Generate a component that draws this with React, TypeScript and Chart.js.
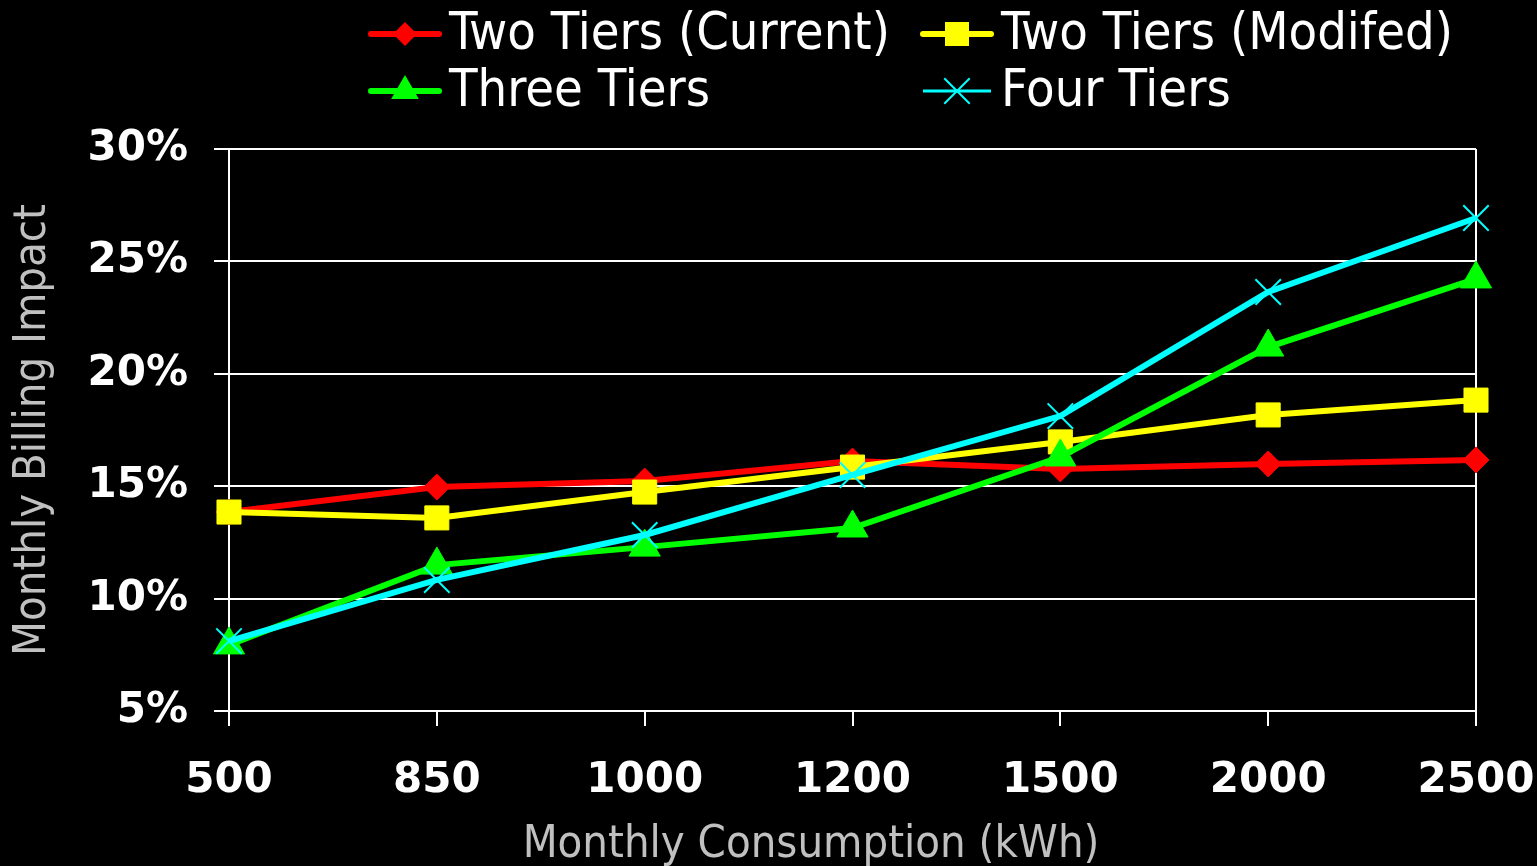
import React, { useEffect, useRef } from "react";
import { Chart, registerables } from "chart.js";

Chart.register(...registerables);

const categories = ["500", "850", "1000", "1200", "1500", "2000", "2500"];
const twoTiersCurrent = [13.85, 14.96, 15.23, 16.12, 15.77, 15.99, 16.17];
const twoTiersModified = [13.85, 13.59, 14.74, 15.85, 16.97, 18.17, 18.83];
const threeTiers = [7.94, 11.49, 12.29, 13.14, 16.3, 21.19, 24.22];
const fourTiers = [8.11, 10.83, 12.83, 15.5, 18.12, 23.64, 26.93];
const seriesNames = ["Two Tiers (Current)", "Two Tiers (Modifed)", "Three Tiers", "Four Tiers"];
const seriesColors = ["#ff0000", "#ffff00", "#00ff00", "#00ffff"];
const xTitle = "Monthly Consumption (kWh)";
const yTitle = "Monthly Billing Impact";
const yMin = 5;
const yMax = 30;
const yStep = 5;

const TEXT_FONT = "'DejaVu Sans Condensed', 'DejaVu Sans', sans-serif";
const TICK_FONT = "'DejaVu Sans', sans-serif";

function drawMarker(ctx: CanvasRenderingContext2D, style: string, x: number, y: number, r: number, color: string) {
  ctx.save();
  ctx.fillStyle = color;
  ctx.strokeStyle = color;
  ctx.beginPath();
  if (style === "rectRot") {
    ctx.moveTo(x - r, y);
    ctx.lineTo(x, y - r);
    ctx.lineTo(x + r, y);
    ctx.lineTo(x, y + r);
    ctx.closePath();
    ctx.fill();
  } else if (style === "rect") {
    const s = Math.SQRT1_2 * r;
    ctx.rect(x - s, y - s, 2 * s, 2 * s);
    ctx.fill();
  } else if (style === "triangle") {
    const a = (2 * Math.PI) / 3;
    ctx.moveTo(x, y - r);
    ctx.lineTo(x + Math.sin(a) * r, y - Math.cos(a) * r);
    ctx.lineTo(x + Math.sin(2 * a) * r, y - Math.cos(2 * a) * r);
    ctx.closePath();
    ctx.fill();
  } else if (style === "crossRot") {
    const o = Math.SQRT1_2 * r;
    ctx.lineWidth = 2;
    ctx.moveTo(x - o, y - o);
    ctx.lineTo(x + o, y + o);
    ctx.moveTo(x + o, y - o);
    ctx.lineTo(x - o, y + o);
    ctx.stroke();
  }
  ctx.restore();
}

const legendAndTitles = {
  id: "legendAndTitles",
  afterDraw(chart: any) {
    const ctx: CanvasRenderingContext2D = chart.ctx;
    const area = chart.chartArea;
    const items = [
      { ds: 0, x0: 371, x1: 439, mx: 405, tx: 449, y: 34, r: 12 },
      { ds: 1, x0: 923, x1: 991, mx: 957, tx: 1001, y: 34, r: 17 },
      { ds: 2, x0: 371, x1: 439, mx: 405, tx: 449, y: 91, r: 16 },
      { ds: 3, x0: 923, x1: 991, mx: 957, tx: 1001, y: 91, r: 18 },
    ];
    ctx.save();
    for (const it of items) {
      const ds = chart.data.datasets[it.ds];
      const isCross = ds.pointStyle === "crossRot";
      ctx.strokeStyle = ds.borderColor;
      ctx.lineWidth = isCross ? 3 : 6;
      ctx.lineCap = isCross ? "butt" : "round";
      ctx.beginPath();
      ctx.moveTo(it.x0, it.y);
      ctx.lineTo(it.x1, it.y);
      ctx.stroke();
      drawMarker(ctx, ds.pointStyle, it.mx, it.y, it.r, ds.borderColor);
      ctx.fillStyle = "#ffffff";
      ctx.font = `52px ${TEXT_FONT}`;
      ctx.textBaseline = "middle";
      ctx.textAlign = "left";
      ctx.fillText(ds.label, it.tx, it.y + 1);
    }
    // axis titles
    ctx.fillStyle = "#c0c0c0";
    ctx.font = `45px ${TEXT_FONT}`;
    ctx.textAlign = "center";
    ctx.textBaseline = "middle";
    ctx.fillText(xTitle, 811, 845);
    ctx.translate(33, (area.top + area.bottom) / 2);
    ctx.rotate(-Math.PI / 2);
    ctx.fillText(yTitle, 0, 0);
    ctx.restore();
  },
};

export default function App() {
  const canvasRef = useRef<HTMLCanvasElement | null>(null);

  useEffect(() => {
    document.body.style.margin = "0";
    document.body.style.background = "#000000";
    const canvas = canvasRef.current!;
    const series = [twoTiersCurrent, twoTiersModified, threeTiers, fourTiers];
    const styles = ["rectRot", "rect", "triangle", "crossRot"];
    const radii = [13, 17, 18, 18];
    const chart = new Chart(canvas, {
      type: "line",
      data: {
        labels: categories,
        datasets: series.map((data, i) => ({
          label: seriesNames[i],
          data,
          borderColor: seriesColors[i],
          backgroundColor: seriesColors[i],
          borderWidth: 6,
          pointStyle: styles[i] as any,
          pointRadius: radii[i],
          pointBorderWidth: styles[i] === "crossRot" ? 2 : 1,
          pointBackgroundColor: seriesColors[i],
          pointBorderColor: seriesColors[i],
          tension: 0,
          fill: false,
          order: series.length - i,
        })),
      },
      options: {
        responsive: false,
        animation: false,
        devicePixelRatio: 1,
        layout: { padding: { top: 149, right: 61, left: 0, bottom: 0 } },
        plugins: {
          legend: { display: false },
          tooltip: { enabled: false },
          title: { display: false },
        },
        scales: {
          x: {
            type: "category",
            offset: false,
            afterFit: (scale: any) => {
              scale.height = 155;
              scale.paddingLeft = 0;
              scale.paddingRight = 0;
            },
            grid: {
              drawOnChartArea: true,
              color: (c: any) => (c.index === categories.length - 1 ? "#ffffff" : "rgba(0,0,0,0)"),
              tickColor: "#ffffff",
              lineWidth: 2,
              tickLength: 15,
            },
            border: { display: true, color: "#ffffff", width: 2 },
            ticks: {
              color: "#ffffff",
              font: { family: TICK_FONT, weight: "bold", size: 42 },
              padding: 30,
              maxRotation: 0,
              autoSkip: false,
            },
          },
          y: {
            min: yMin,
            max: yMax,
            afterFit: (scale: any) => {
              scale.width = 229;
              scale.paddingTop = 0;
              scale.paddingBottom = 0;
            },
            grid: {
              color: "#ffffff",
              lineWidth: 2,
              tickLength: 15,
              tickColor: "#ffffff",
            },
            border: { display: true, color: "#ffffff", width: 2 },
            ticks: {
              stepSize: yStep,
              color: "#ffffff",
              font: { family: TICK_FONT, weight: "bold", size: 42 },
              padding: 26,
              callback: (v: any) => `${v}%`,
            },
          },
        },
      },
      plugins: [legendAndTitles],
    });
    return () => chart.destroy();
  }, []);

  return (
    <div style={{ width: 1537, height: 866, background: "#000" }}>
      <canvas ref={canvasRef} width={1537} height={866} style={{ display: "block" }} />
    </div>
  );
}
